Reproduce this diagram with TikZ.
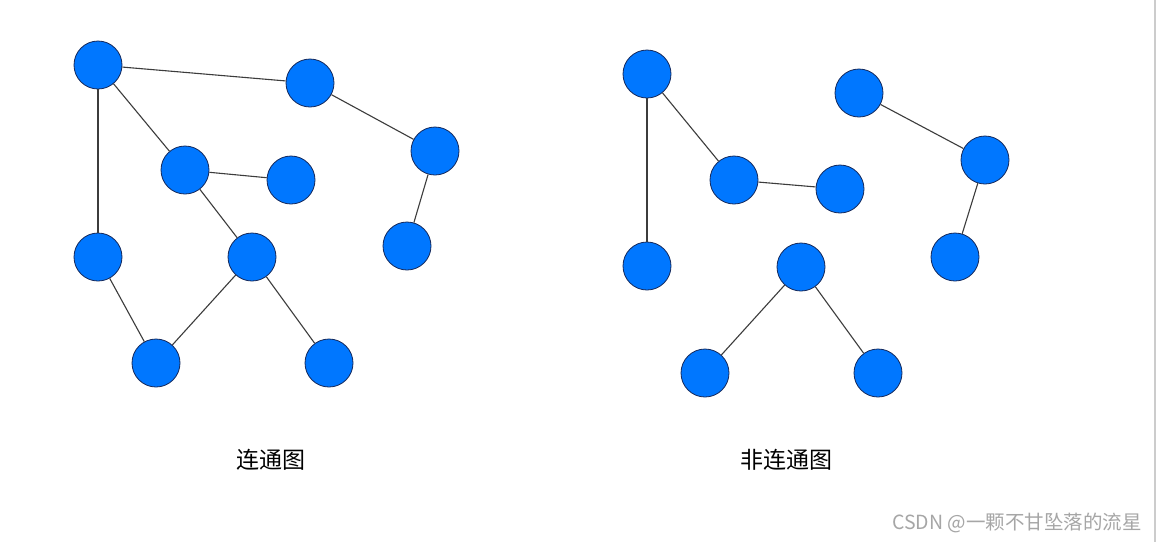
\documentclass[tikz,border=0pt]{standalone}
\usepackage{fontspec}
\newfontfamily\cjk{Noto Sans CJK SC}
\definecolor{nodeblue}{RGB}{0,119,255}
\definecolor{nodeedge}{RGB}{20,40,90}
\definecolor{edgegray}{RGB}{60,60,60}
\begin{document}
\begin{tikzpicture}[x=1pt,y=-1pt,
  vtx/.style={circle,fill=nodeblue,draw=nodeedge,line width=0.8pt,minimum size=48pt,inner sep=0pt},
  lnk/.style={draw=edgegray,line width=1.1pt},
  captext/.style={font=\cjk\fontsize{23}{27}\selectfont}]
\useasboundingbox (0,0) rectangle (1159,542);
\fill[white] (0,0) rectangle (1159,542);
\draw[gray!40,line width=1.5pt] (1155,0) -- (1155,542);
% left graph
\node[vtx] (A) at (98,65) {};
\node[vtx] (B) at (310,83) {};
\node[vtx] (C) at (185,170) {};
\node[vtx] (D) at (291,180) {};
\node[vtx] (E) at (435,151) {};
\node[vtx] (F) at (407,246) {};
\node[vtx] (G) at (98,257) {};
\node[vtx] (H) at (252,257) {};
\node[vtx] (I) at (156,363) {};
\node[vtx] (J) at (329,363) {};
\draw[lnk] (A) -- (B);
\draw[lnk] (A) -- (C);
\draw[lnk] (A) -- (G);
\draw[lnk] (B) -- (E);
\draw[lnk] (E) -- (F);
\draw[lnk] (C) -- (D);
\draw[lnk] (C) -- (H);
\draw[lnk] (G) -- (I);
\draw[lnk] (H) -- (I);
\draw[lnk] (H) -- (J);
% right graph
\node[vtx] (K) at (647,74) {};
\node[vtx] (L) at (859,93) {};
\node[vtx] (M) at (734,180) {};
\node[vtx] (N) at (840,189) {};
\node[vtx] (O) at (985,160) {};
\node[vtx] (P) at (647,266) {};
\node[vtx] (Q) at (955,257) {};
\node[vtx] (R) at (801,267) {};
\node[vtx] (S) at (705,373) {};
\node[vtx] (T) at (878,373) {};
\draw[lnk] (K) -- (P);
\draw[lnk] (K) -- (M);
\draw[lnk] (M) -- (N);
\draw[lnk] (L) -- (O);
\draw[lnk] (O) -- (Q);
\draw[lnk] (R) -- (S);
\draw[lnk] (R) -- (T);
% labels
\node[captext] (lab1) at (271,460) {连通图};
\node[captext] (lab2) at (786,460) {非连通图};
\node[font=\cjk\fontsize{19.5}{23}\selectfont,text=gray!70] (wm) at (1017,523) {CSDN @一颗不甘坠落的流星};
\end{tikzpicture}
\end{document}
